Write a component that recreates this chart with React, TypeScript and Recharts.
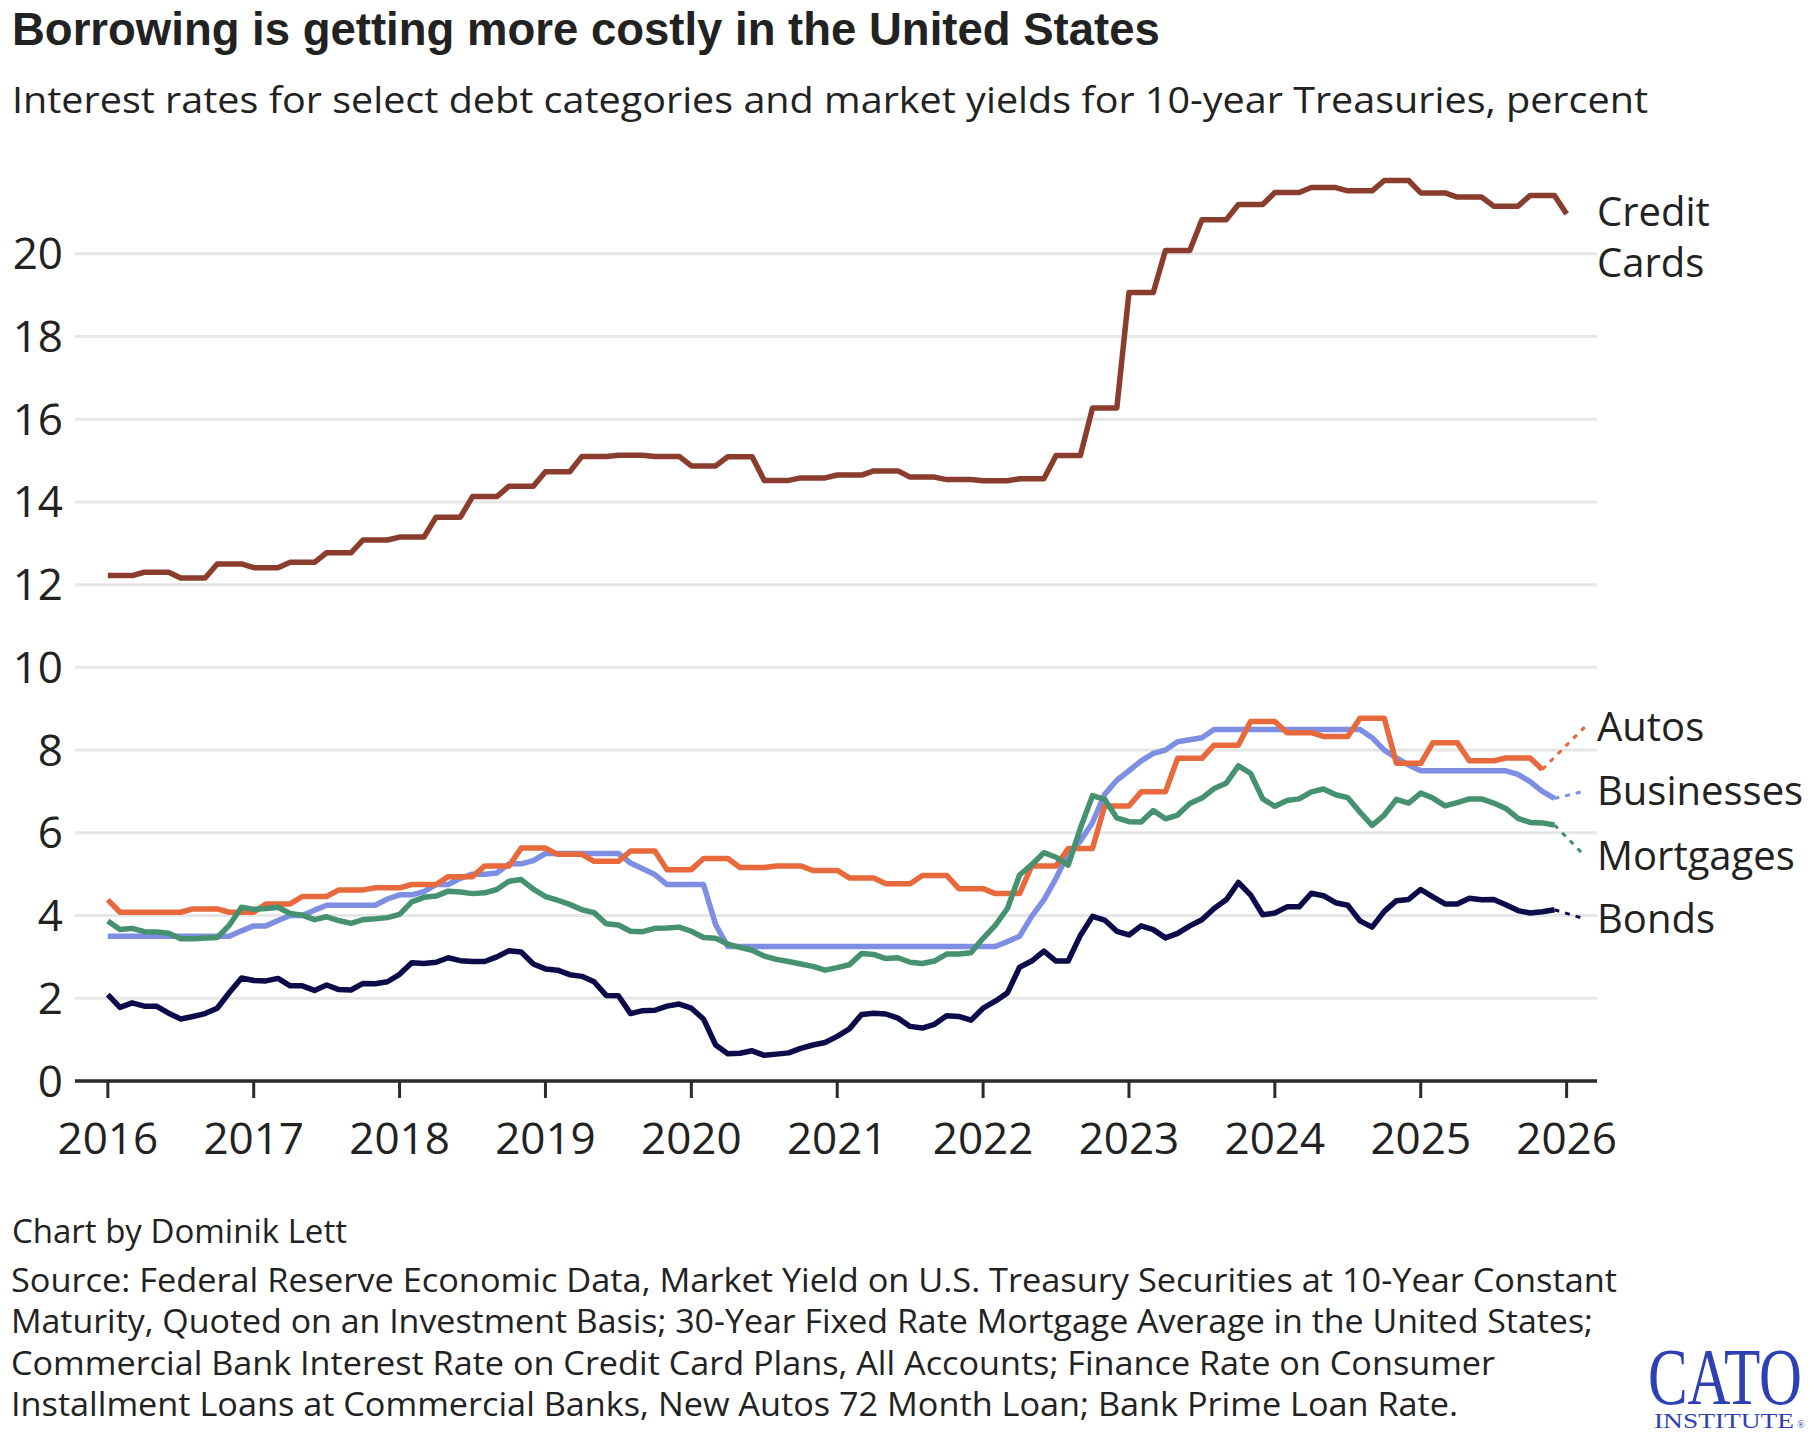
import React from "react";
import {
  LineChart,
  Line,
  XAxis,
  YAxis,
  CartesianGrid,
  ReferenceDot,
  ReferenceLine,
} from "recharts";

// monthly values, index 0 = Jan 2016
const creditCards = [
  12.22, 12.22, 12.22, 12.3, 12.3, 12.3, 12.16, 12.16, 12.16, 12.5, 12.5, 12.5,
  12.41, 12.41, 12.41, 12.54, 12.54, 12.54, 12.77, 12.77, 12.77, 13.08, 13.08, 13.08,
  13.15, 13.15, 13.15, 13.63, 13.63, 13.63, 14.13, 14.13, 14.13, 14.38, 14.38, 14.38,
  14.73, 14.73, 14.73, 15.1, 15.1, 15.1, 15.13, 15.13, 15.13, 15.1, 15.1, 15.1,
  14.87, 14.87, 14.87, 15.09, 15.09, 15.09, 14.52, 14.52, 14.52, 14.58, 14.58, 14.58,
  14.65, 14.65, 14.65, 14.75, 14.75, 14.75, 14.6, 14.6, 14.6, 14.54, 14.54, 14.54,
  14.51, 14.51, 14.51, 14.56, 14.56, 14.56, 15.12, 15.12, 15.12, 16.27, 16.27, 16.27,
  19.06, 19.06, 19.06, 20.08, 20.08, 20.08, 20.82, 20.82, 20.82, 21.19, 21.19, 21.19,
  21.48, 21.48, 21.48, 21.6, 21.6, 21.6, 21.52, 21.52, 21.52, 21.77, 21.77, 21.77,
  21.47, 21.47, 21.47, 21.37, 21.37, 21.37, 21.15, 21.15, 21.15, 21.41, 21.41, 21.41,
  20.96,
];

const autos = [
  4.38, 4.08, 4.08, 4.08, 4.08, 4.08, 4.08, 4.16, 4.16, 4.16, 4.08, 4.08,
  4.08, 4.28, 4.28, 4.28, 4.46, 4.46, 4.46, 4.62, 4.62, 4.62, 4.67, 4.67,
  4.67, 4.75, 4.75, 4.75, 4.94, 4.94, 4.94, 5.2, 5.2, 5.2, 5.63, 5.63,
  5.63, 5.48, 5.48, 5.48, 5.31, 5.31, 5.31, 5.56, 5.56, 5.56, 5.11, 5.11,
  5.11, 5.38, 5.38, 5.38, 5.16, 5.16, 5.16, 5.2, 5.2, 5.2, 5.09, 5.09,
  5.09, 4.91, 4.91, 4.91, 4.77, 4.77, 4.77, 4.97, 4.97, 4.97, 4.65, 4.65,
  4.65, 4.53, 4.53, 4.53, 5.2, 5.2, 5.2, 5.62, 5.62, 5.62, 6.65, 6.65,
  6.65, 6.99, 6.99, 6.99, 7.8, 7.8, 7.8, 8.12, 8.12, 8.12, 8.69, 8.69,
  8.69, 8.42, 8.42, 8.42, 8.33, 8.33, 8.33, 8.77, 8.77, 8.77, 7.68, 7.68,
  7.68, 8.18, 8.18, 8.18, 7.74, 7.74, 7.74, 7.81, 7.81, 7.81, 7.53,
];

const businesses = [
  3.5, 3.5, 3.5, 3.5, 3.5, 3.5, 3.5, 3.5, 3.5, 3.5, 3.5, 3.63,
  3.75, 3.75, 3.88, 4.0, 4.0, 4.13, 4.25, 4.25, 4.25, 4.25, 4.25, 4.4,
  4.5, 4.5, 4.58, 4.75, 4.75, 4.9, 5.0, 5.0, 5.03, 5.25, 5.25, 5.33,
  5.5, 5.5, 5.5, 5.5, 5.5, 5.5, 5.5, 5.27, 5.13, 4.99, 4.75, 4.75,
  4.75, 4.75, 3.78, 3.25, 3.25, 3.25, 3.25, 3.25, 3.25, 3.25, 3.25, 3.25,
  3.25, 3.25, 3.25, 3.25, 3.25, 3.25, 3.25, 3.25, 3.25, 3.25, 3.25, 3.25,
  3.25, 3.25, 3.37, 3.5, 3.98, 4.38, 4.9, 5.5, 5.8, 6.25, 6.93, 7.27,
  7.5, 7.74, 7.92, 8.0, 8.2, 8.25, 8.3, 8.5, 8.5, 8.5, 8.5, 8.5,
  8.5, 8.5, 8.5, 8.5, 8.5, 8.5, 8.5, 8.5, 8.3, 8.0, 7.81, 7.64,
  7.5, 7.5, 7.5, 7.5, 7.5, 7.5, 7.5, 7.5, 7.41, 7.24, 7.0, 6.83,
];

const mortgages = [
  3.87, 3.66, 3.69, 3.61, 3.6, 3.57, 3.44, 3.44, 3.46, 3.47, 3.77, 4.2,
  4.15, 4.17, 4.2, 4.05, 4.01, 3.9, 3.97, 3.88, 3.81, 3.9, 3.92, 3.95,
  4.03, 4.33, 4.44, 4.47, 4.59, 4.57, 4.53, 4.55, 4.63, 4.83, 4.87, 4.64,
  4.46, 4.37, 4.27, 4.14, 4.07, 3.8, 3.77, 3.62, 3.61, 3.69, 3.7, 3.72,
  3.62, 3.47, 3.45, 3.31, 3.23, 3.16, 3.02, 2.94, 2.89, 2.83, 2.77, 2.68,
  2.74, 2.81, 3.08, 3.06, 2.96, 2.98, 2.87, 2.84, 2.9, 3.07, 3.07, 3.1,
  3.45, 3.76, 4.17, 4.98, 5.23, 5.52, 5.41, 5.22, 6.11, 6.9, 6.81, 6.36,
  6.27, 6.26, 6.54, 6.34, 6.43, 6.71, 6.84, 7.07, 7.2, 7.62, 7.44, 6.82,
  6.64, 6.78, 6.82, 6.99, 7.06, 6.92, 6.85, 6.5, 6.18, 6.43, 6.81, 6.72,
  6.96, 6.84, 6.65, 6.73, 6.82, 6.82, 6.72, 6.59, 6.35, 6.25, 6.24, 6.19,
];

const bonds = [
  2.09, 1.78, 1.89, 1.81, 1.81, 1.64, 1.5, 1.56, 1.63, 1.76, 2.14, 2.49,
  2.43, 2.42, 2.48, 2.3, 2.3, 2.19, 2.32, 2.21, 2.2, 2.36, 2.35, 2.4,
  2.58, 2.86, 2.84, 2.87, 2.98, 2.91, 2.89, 2.89, 3.0, 3.15, 3.12, 2.83,
  2.71, 2.68, 2.57, 2.53, 2.4, 2.07, 2.06, 1.63, 1.7, 1.71, 1.81, 1.86,
  1.76, 1.5, 0.87, 0.66, 0.67, 0.73, 0.62, 0.65, 0.68, 0.79, 0.87, 0.93,
  1.08, 1.26, 1.61, 1.64, 1.62, 1.52, 1.32, 1.28, 1.37, 1.58, 1.56, 1.47,
  1.76, 1.93, 2.13, 2.75, 2.9, 3.14, 2.9, 2.9, 3.52, 3.98, 3.89, 3.62,
  3.53, 3.75, 3.66, 3.46, 3.57, 3.75, 3.9, 4.17, 4.38, 4.8, 4.5, 4.02,
  4.06, 4.21, 4.21, 4.54, 4.48, 4.31, 4.25, 3.87, 3.72, 4.1, 4.36, 4.39,
  4.63, 4.45, 4.28, 4.28, 4.42, 4.38, 4.39, 4.26, 4.12, 4.06, 4.09, 4.14,
];

const yTicks = [0, 2, 4, 6, 8, 10, 12, 14, 16, 18, 20];
const xTicks = [0, 12, 24, 36, 48, 60, 72, 84, 96, 108, 120];
const firstYear = 2016;

const COLORS = {
  cc: "#8b3d2d",
  autos: "#e8693b",
  biz: "#7e8ee2",
  mort: "#46916f",
  bond: "#0d0c4b",
};

// labels on the right, value = where the label sits on the y scale
const seriesLabels = [
  { text: "Credit", value: 21.02, key: "" },
  { text: "Cards", value: 19.78, key: "" },
  { text: "Autos", value: 8.56, key: "autos" },
  { text: "Businesses", value: 7.01, key: "biz" },
  { text: "Mortgages", value: 5.44, key: "mort" },
  { text: "Bonds", value: 3.92, key: "bond" },
];

const seriesByKey: Record<string, number[]> = {
  autos,
  biz: businesses,
  mort: mortgages,
  bond: bonds,
};

const sourceLines = [
  { text: "Source: Federal Reserve Economic Data, Market Yield on U.S. Treasury Securities at 10-Year Constant", width: 1606 },
  { text: "Maturity, Quoted on an Investment Basis; 30-Year Fixed Rate Mortgage Average in the United States;", width: 1582 },
  { text: "Commercial Bank Interest Rate on Credit Card Plans, All Accounts; Finance Rate on Consumer", width: 1484 },
  { text: "Installment Loans at Commercial Banks, New Autos 72 Month Loan; Bank Prime Loan Rate.", width: 1447 },
];

const rows = creditCards.map((cc, i) => ({
  i,
  cc,
  autos: autos[i],
  biz: businesses[i],
  mort: mortgages[i],
  bond: bonds[i],
}));

const FONT = "'Open Sans', 'Noto Sans', sans-serif";
const TEXT = "#222222";
const LINE_W = 5.5;

const YTick = (props: any) => (
  <text
    x={props.x}
    y={props.y + 15.5}
    textAnchor="end"
    fontFamily={FONT}
    fontSize={44}
    fill={TEXT}
  >
    {props.payload.value}
  </text>
);

const XTick = (props: any) => (
  <text
    x={props.x}
    y={props.y + 56}
    textAnchor="middle"
    fontFamily={FONT}
    fontSize={44}
    fill={TEXT}
  >
    {firstYear + props.payload.value / 12}
  </text>
);

const LEADER_END = 121.5;

export default function App() {
  return (
    <div
      style={{
        position: "absolute",
        left: 0,
        top: 0,
        width: 1820,
        height: 1442,
        background: "#ffffff",
        overflow: "hidden",
      }}
    >
      <svg
        width={1820}
        height={1442}
        style={{ position: "absolute", left: 0, top: 0 }}
      >
        <text
          x={12}
          y={45}
          fontFamily="'Liberation Sans', Arial, sans-serif"
          fontWeight={700}
          fontSize={45.5}
          fill={TEXT}
        >
          Borrowing is getting more costly in the United States
        </text>
        <text
          x={12}
          y={113}
          fontFamily={FONT}
          fontSize={37}
          fill={TEXT}
          textLength={1636}
          lengthAdjust="spacingAndGlyphs"
        >
          Interest rates for select debt categories and market yields for
          10-year Treasuries, percent
        </text>
        <text x={12} y={1243} fontFamily={FONT} fontSize={33} fill={TEXT}>
          Chart by Dominik Lett
        </text>
        {sourceLines.map((line, k) => (
          <text
            key={k}
            x={11}
            y={1292 + k * 41.3}
            fontFamily={FONT}
            fontSize={33}
            fill={TEXT}
            textLength={line.width}
            lengthAdjust="spacingAndGlyphs"
          >
            {line.text}
          </text>
        ))}
        <text
          x={1648}
          y={1404}
          fontFamily="'Liberation Serif', 'DejaVu Serif', serif"
          fontSize={80}
          fill="#2f40b4"
          textLength={154}
          lengthAdjust="spacingAndGlyphs"
        >
          CATO
        </text>
        <text
          x={1654}
          y={1428}
          fontFamily="'Liberation Serif', 'DejaVu Serif', serif"
          fontSize={21}
          fill="#2f40b4"
          textLength={140}
          lengthAdjust="spacingAndGlyphs"
        >
          INSTITUTE
        </text>
        <text
          x={1797}
          y={1428}
          fontFamily="'Liberation Serif', 'DejaVu Serif', serif"
          fontSize={10}
          fill="#2f40b4"
        >
          ®
        </text>
      </svg>
      <div style={{ position: "absolute", left: 0, top: 0 }}>
        <LineChart
          width={1820}
          height={1442}
          data={rows}
          margin={{ top: 171, right: 223, bottom: 301, left: 0 }}
        >
          <CartesianGrid
            vertical={false}
            horizontalValues={yTicks}
            stroke="#e6e6e6"
            strokeWidth={3}
          />
          <XAxis
            dataKey="i"
            type="number"
            domain={[-2.7, 122.5]}
            ticks={xTicks}
            height={60}
            tickSize={17}
            tickMargin={0}
            axisLine={{ stroke: "#2b2b2b", strokeWidth: 3.5 }}
            tickLine={{ stroke: "#2b2b2b", strokeWidth: 3 }}
            tick={<XTick />}
            allowDataOverflow
          />
          <YAxis
            type="number"
            domain={[0, 22]}
            ticks={yTicks}
            width={75}
            tickSize={0}
            tickMargin={12}
            axisLine={false}
            tickLine={false}
            tick={<YTick />}
            allowDataOverflow
          />
          <Line
            dataKey="cc"
            stroke={COLORS.cc}
            strokeWidth={LINE_W}
            dot={false}
            isAnimationActive={false}
            strokeLinejoin="round"
          />
          <Line
            dataKey="biz"
            stroke={COLORS.biz}
            strokeWidth={LINE_W}
            dot={false}
            isAnimationActive={false}
            strokeLinejoin="round"
          />
          <Line
            dataKey="autos"
            stroke={COLORS.autos}
            strokeWidth={LINE_W}
            dot={false}
            isAnimationActive={false}
            strokeLinejoin="round"
          />
          <Line
            dataKey="mort"
            stroke={COLORS.mort}
            strokeWidth={LINE_W}
            dot={false}
            isAnimationActive={false}
            strokeLinejoin="round"
          />
          <Line
            dataKey="bond"
            stroke={COLORS.bond}
            strokeWidth={LINE_W}
            dot={false}
            isAnimationActive={false}
            strokeLinejoin="round"
          />
          {seriesLabels
            .filter((l) => l.key)
            .map((l) => {
              const arr = seriesByKey[l.key];
              const last = arr.length - 1;
              return (
                <ReferenceLine
                  key={"leader-" + l.key}
                  segment={[
                    { x: last, y: arr[last] },
                    { x: LEADER_END, y: l.value },
                  ]}
                  stroke={(COLORS as any)[l.key]}
                  strokeWidth={3}
                  strokeDasharray="5 6"
                  ifOverflow="visible"
                />
              );
            })}
          {seriesLabels.map((l) => (
            <ReferenceDot
              key={"label-" + l.text}
              x={122.5}
              y={l.value}
              r={0}
              ifOverflow="visible"
              shape={(p: any) => (
                <text
                  x={p.cx}
                  y={p.cy + 14}
                  fontFamily={FONT}
                  fontSize={40}
                  fill={TEXT}
                >
                  {l.text}
                </text>
              )}
            />
          ))}
        </LineChart>
      </div>
    </div>
  );
}
